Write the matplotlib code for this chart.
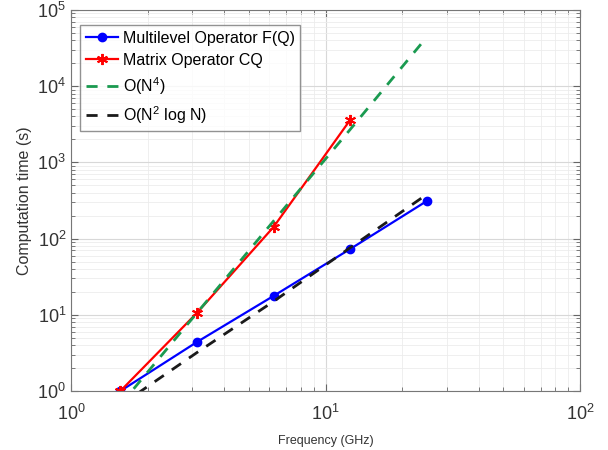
import matplotlib
matplotlib.use("Agg")
import matplotlib.pyplot as plt
import numpy as np

# frequencies (GHz)
freq = [1.5625, 3.125, 6.25, 12.5, 25.0]

# measured computation times (s)
t_multilevel = [1.0, 4.4, 17.7, 73.0, 311.0]
freq_matrix = [1.5625, 3.125, 6.25, 12.5]
t_matrix = [1.0, 10.6, 142.0, 3600.0]

# reference complexity curves
ref_n4 = [0.66, 10.6, 170.0, 2700.0, 44000.0]
ref_n2logn = [0.65, 3.2, 15.0, 76.0, 380.0]

plt.rcParams["font.family"] = ["Liberation Sans", "DejaVu Sans"]
plt.rcParams["mathtext.fontset"] = "custom"
plt.rcParams["mathtext.rm"] = "Liberation Sans"

fig = plt.figure(figsize=(6.08, 4.5), dpi=100)
ax = fig.add_axes([0.1168, 0.131, 0.8372, 0.847])

ax.loglog(freq, t_multilevel, "-o", color="#0000ff", lw=1.6, ms=6,
          label="Multilevel Operator F(Q)")
ax.loglog(freq_matrix, t_matrix, "-", color="#ff0000", lw=1.6,
          marker=(6, 2, 0), ms=8, mew=1.4, label="Matrix Operator CQ")
ax.loglog(freq, ref_n4, "--", color="#1a9a50", lw=2, dashes=(4, 3.5),
          label=r"O(N$^4$)")
ax.loglog(freq, ref_n2logn, "--", color="#1a1a1a", lw=2, dashes=(4, 3.5),
          label=r"O(N$^2$ log N)")

ax.set_xlim(1, 100)
ax.set_ylim(1, 1e5)
ax.grid(True, which="major", color="#d8d8d8", lw=0.8)
ax.grid(True, which="minor", color="#ececec", lw=0.6)
ax.tick_params(which="both", direction="in", top=True, right=True,
               color="#666666", labelsize=13, labelcolor="#333333")
ax.tick_params(which="major", length=5)
ax.tick_params(which="minor", length=3)
ax.tick_params(axis="x", which="major", pad=9)
for s in ax.spines.values():
    s.set_color("#777777")

ax.set_xlabel("Frequency (GHz)", fontsize=9, color="#333333", labelpad=8)
ax.set_ylabel("Computation time (s)", fontsize=11.5, color="#333333", labelpad=4)

leg = ax.legend(loc="upper left", bbox_to_anchor=(0.012, 0.968), fontsize=11.5,
                frameon=True, fancybox=False, edgecolor="#777777",
                handlelength=2.0, handletextpad=0.3, borderpad=0.35,
                labelspacing=0.45, borderaxespad=0.2)
leg.get_frame().set_linewidth(1.0)

fig.savefig("out.png", dpi=100)
